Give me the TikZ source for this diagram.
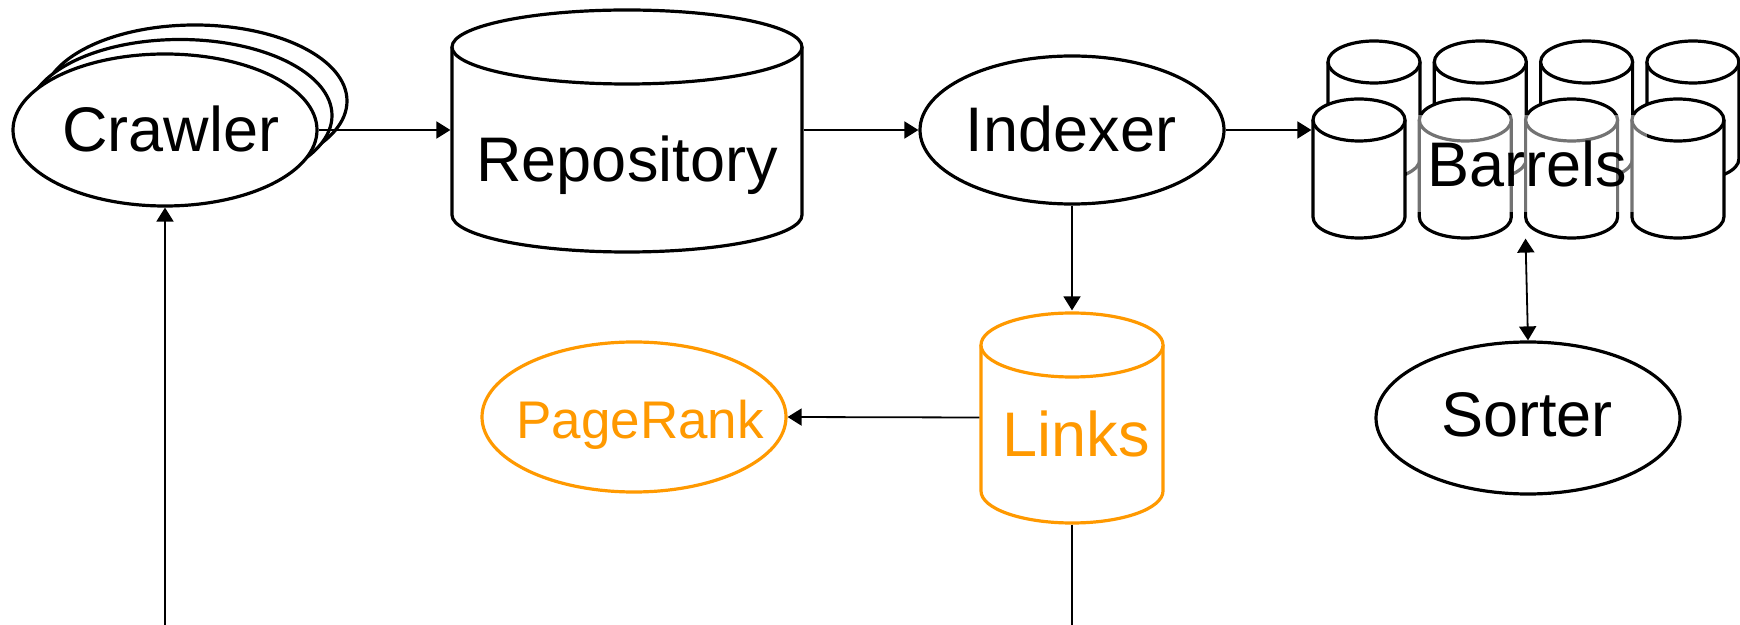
\documentclass[tikz,border=0pt]{standalone}
\usepackage{fontspec}
\setmainfont{Liberation Sans}
\usetikzlibrary{arrows.meta,shapes.geometric}
\definecolor{orng}{RGB}{255,153,0}
% #1 style, #2 cx, #3 ytop, #4 ybot, #5 rx, #6 ry
\newcommand\cylshape[6]{%
  \fill[white] (#2-#5,#3) -- (#2-#5,#4) arc[start angle=180,end angle=0,x radius=#5,y radius=#6] -- (#2+#5,#3) -- cycle;
  \draw[#1] (#2-#5,#3) -- (#2-#5,#4) arc[start angle=180,end angle=0,x radius=#5,y radius=#6] -- (#2+#5,#3);
  \draw[#1,fill=white] (#2,#3) ellipse[x radius=#5, y radius=#6];
}
\begin{document}
\begin{tikzpicture}[x=0.5pt,y=-0.5pt,
  shp/.style={line width=1.6pt, draw=black},
  oshp/.style={line width=1.6pt, draw=orng},
  conn/.style={line width=0.9pt, -{Triangle[width=8.5pt,length=7pt]}},
  dconn/.style={line width=0.9pt, {Triangle[width=8.5pt,length=7pt]}-{Triangle[width=8.5pt,length=7pt]}},
  anchorbox/.style={rectangle, draw=none, inner sep=0pt, outer sep=0.8pt},
  ell/.style={ellipse, inner sep=0pt, fill=white, line width=1.6pt},
  bigtext/.style={font=\fontsize{31.5}{36}\selectfont, inner sep=0pt, anchor=base},
  smalltext/.style={font=\fontsize{26.5}{30}\selectfont, inner sep=0pt, anchor=base}]
\fill[white] (0,0) rectangle (1740,625);
\useasboundingbox (0,0) rectangle (1740,625);

% Crawler (stack of three)
\draw[shp, fill=white] (195,101) ellipse[x radius=152, y radius=76];
\draw[shp, fill=white] (180,115.5) ellipse[x radius=152, y radius=76];
\node[ell, draw, minimum width=152pt, minimum height=76pt] (crawler) at (165,130) {};
\node[bigtext] (crawlertext) at (171,152) {Crawler};

% Repository
\cylshape{shp}{627}{47}{215}{175}{37}
\node[anchorbox, minimum width=175pt, minimum height=120pt] (repo) at (627,130) {};
\node[bigtext] (repotext) at (627,182) {Repository};

% Indexer
\node[ell, draw, minimum width=152pt, minimum height=74pt] (indexer) at (1072,130) {};
\node[bigtext] (indexertext) at (1071,152) {Indexer};

% Barrels
\foreach \i in {0,...,3}{
  \cylshape{shp}{1374+106.3*\i}{62}{159}{46}{21}
}
\foreach \i in {0,...,3}{
  \cylshape{shp}{1359+106.3*\i}{120}{217}{46}{21}
}
\fill[white, opacity=0.45] (1407,115) rectangle (1647,212);
\node[anchorbox, minimum width=212.5pt, minimum height=107pt] (barrels) at (1525.5,130) {};
\node[bigtext] (barrelstext) at (1527,187) {Barrels};

% Sorter
\node[ell, draw, minimum width=152pt, minimum height=76pt] (sorter) at (1528,418) {};
\node[bigtext] (sortertext) at (1527,437) {Sorter};

% PageRank
\node[ell, draw=orng, minimum width=152pt, minimum height=75pt] (pagerank) at (634,417) {};
\node[smalltext, text=orng] (pageranktext) at (640,438) {PageRank};

% Links
\cylshape{oshp}{1072}{345}{491}{91}{32}
\node[anchorbox, minimum width=91pt, minimum height=105.5pt] (links) at (1072,417.5) {};
\node[bigtext, text=orng] (linkstext) at (1076,457) {Links};

% free ends
\coordinate (crawlerin) at (165,625);
\coordinate (linksout) at (1072,625);

% connectors
\draw[conn] (crawlerin) -- (crawler.south);
\draw[conn] (crawler.east) -- (repo.west);
\draw[conn] (repo.east) -- (indexer.west);
\draw[conn] (indexer.east) -- (barrels.west);
\draw[conn] (indexer.south) -- (links.north);
\draw[conn] (links.west) -- (pagerank.east);
\draw[line width=0.9pt] (links.south) -- (linksout);
\draw[dconn] (barrels.south) -- (sorter.north);
\end{tikzpicture}
\end{document}
